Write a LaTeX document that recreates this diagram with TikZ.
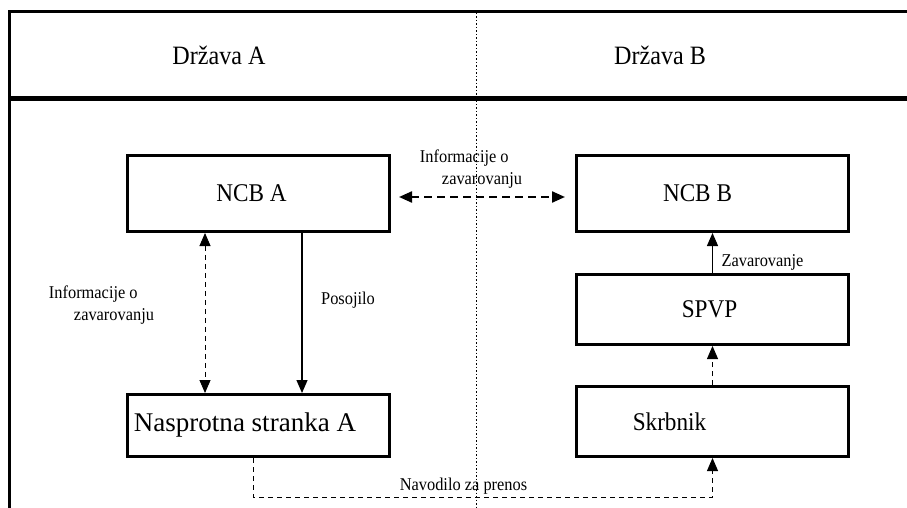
\documentclass[tikz,border=0pt]{standalone}
\usepackage{fontspec}
\setmainfont{Liberation Serif}[FakeStretch=0.91]
\usetikzlibrary{arrows.meta}
\begin{document}
\begin{tikzpicture}[x=1pt,y=-1pt,
  box/.style={draw,line width=3pt,rectangle,inner sep=0pt,font=\fontsize{25.5}{30}\selectfont},
  lbl/.style={font=\fontsize{18}{21.6}\selectfont,inner sep=0pt,align=left},
  head/.style={font=\fontsize{26.5}{30}\selectfont,inner sep=0pt},
  tip/.style={-{Triangle[length=13pt,width=11pt]}},
  twotip/.style={{Triangle[length=13pt,width=11pt]}-{Triangle[length=13pt,width=11pt]}},
  thindash/.style={line width=0.9pt,dash pattern=on 5pt off 4pt},
  thickdash/.style={line width=2.2pt,dash pattern=on 8pt off 5pt},
  solidarrow/.style={line width=1.3pt},
  divider/.style={line width=0.7pt,dash pattern=on 1.5pt off 2pt}
]
\useasboundingbox (0,0) rectangle (907,508);

% frame
\draw[line width=3pt] (907,11.5) -- (9.5,11.5) -- (9.5,508);
\draw[line width=5pt] (8,98.5) -- (907,98.5);
\draw[divider] (476,13) -- (476,508);

% headers
\node[head] (hA) at (219,55) {Država A};
\node[head] (hB) at (660,55) {Država B};

% boxes
\node[box,minimum width=262pt,minimum height=76pt] (ncbA) at (258.5,193.5) {NCB A\hspace*{14pt}};
\node[box,minimum width=272pt,minimum height=76pt] (ncbB) at (712.5,193.5) {NCB B\hspace*{30pt}};
\node[box,minimum width=272pt,minimum height=70pt] (spvp) at (712.5,309.5) {SPVP\hspace*{6pt}};
\node[box,minimum width=272pt,minimum height=70pt] (skr) at (712.5,421.5) {Skrbnik\hspace*{86pt}};
\node[box,minimum width=262pt,minimum height=62pt] (nasA) at (258.5,425.5) {\scalebox{1.1}[1]{\fontsize{27}{30}\selectfont Nasprotna stranka A}\hspace*{27pt}};

% helper coordinates
\coordinate (xa) at (205,0);
\coordinate (xb) at (302,0);
\coordinate (xn) at (253,0);
\coordinate (navc) at (480,497);

% connectors
\draw[thickdash,twotip,shorten <=8pt,shorten >=10pt] ([yshift=-3.5pt]ncbA.east) -- ([yshift=-3.5pt]ncbB.west);
\draw[thindash,twotip] (ncbA.south -| xa) -- (nasA.north -| xa);
\draw[solidarrow,tip] (ncbA.south -| xb) -- (nasA.north -| xb);
\draw[solidarrow,tip] (spvp.north) -- (ncbB.south);
\draw[thindash,tip] (skr.north) -- (spvp.south);
\draw[thindash,tip] (nasA.south -| xn) |- (navc) -| (skr.south);

% labels
\node[lbl] (infoTop) at (471,169) {Informacije o\\\hspace*{22pt}zavarovanju};
\node[lbl] (infoLeft) at (101.5,305) {Informacije o\\\hspace*{25pt}zavarovanju};
\node[lbl] (posojilo) at (348,300) {Posojilo};
\node[lbl] (zav) at (762.5,262) {Zavarovanje};
\node[lbl] (nav) at (463.5,486) {Navodilo za prenos};
\end{tikzpicture}
\end{document}
